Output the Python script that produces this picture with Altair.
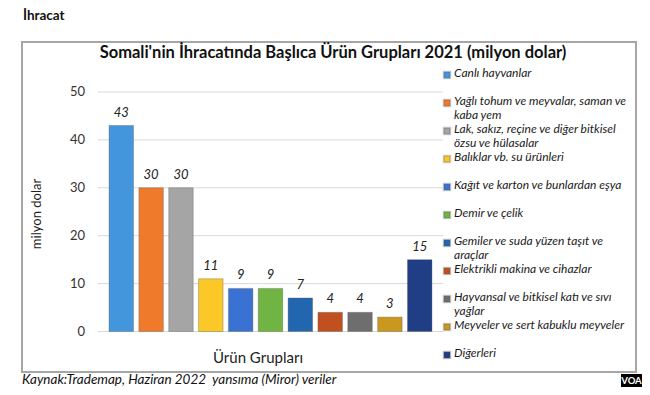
import altair as alt
import pandas as pd

categories = [
    "Canlı hayvanlar",
    "Yağlı tohum ve meyvalar, saman ve kaba yem",
    "Lak, sakız, reçine ve diğer bitkisel özsu ve hülasalar",
    "Balıklar vb. su ürünleri",
    "Kağıt ve karton ve bunlardan eşya",
    "Demir ve çelik",
    "Gemiler ve suda yüzen taşıt ve araçlar",
    "Elektrikli makina ve cihazlar",
    "Hayvansal ve bitkisel katı ve sıvı yağlar",
    "Meyveler ve sert kabuklu meyveler",
    "Diğerleri",
]
legend_labels = [
    "Canlı hayvanlar",
    "Yağlı tohum ve meyvalar, saman ve\nkaba yem",
    "Lak, sakız, reçine ve diğer bitkisel\nözsu ve hülasalar",
    "Balıklar vb. su ürünleri",
    "Kağıt ve karton ve bunlardan eşya",
    "Demir ve çelik",
    "Gemiler ve suda yüzen taşıt ve\naraçlar",
    "Elektrikli makina ve cihazlar",
    "Hayvansal ve bitkisel katı ve sıvı\nyağlar",
    "Meyveler ve sert kabuklu meyveler",
    "Diğerleri",
]
values = [43, 30, 30, 11, 9, 9, 7, 4, 4, 3, 15]
colors = ["#4496dc", "#ef7a2c", "#a5a5a5", "#fcc827", "#3a72d4", "#70b443",
          "#2166ae", "#c0501f", "#6e6e6e", "#c9981e", "#1f3e85"]
y_ticks = [0, 10, 20, 30, 40, 50]

title_text = "Somali'nin İhracatında Başlıca Ürün Grupları 2021 (milyon dolar)"
header_text = "İhracat"
source_text = "Kaynak:Trademap, Haziran 2022\u00a0 yansıma (Miror) veriler"
x_title = "Ürün Grupları"
y_title = "milyon dolar"

FONT = "Lato"

df = pd.DataFrame({"cat": categories, "val": values, "label": legend_labels})
ticks_df = pd.DataFrame({"t": y_ticks})
one = pd.DataFrame({"a": [0]})

xscale = alt.Scale(domain=categories, range=[76, 421], paddingInner=0.18, paddingOuter=0.37)
yscale = alt.Scale(domain=[0, 50], range=[289.5, 50], nice=False, zero=True)
cscale = alt.Scale(domain=categories, range=colors)
lscale = alt.Scale(domain=categories, range=[33, 313], padding=0)

grid = alt.Chart(ticks_df).mark_rule(color="#d9d9d9", strokeWidth=1).encode(
    y=alt.Y("t:Q", scale=yscale, axis=None),
    x=alt.value(76), x2=alt.value(421),
)
tick_labels = alt.Chart(ticks_df).mark_text(
    align="right", baseline="middle", font=FONT, fontSize=13, color="#333333"
).encode(
    y=alt.Y("t:Q", scale=yscale, axis=None),
    x=alt.value(63),
    text="t:Q",
)
bars = alt.Chart(df).mark_bar(stroke="#555555", strokeOpacity=0.35, strokeWidth=1).encode(
    x=alt.X("cat:N", scale=xscale, sort=categories, axis=None),
    y=alt.Y("val:Q", scale=yscale, axis=None),
    color=alt.Color("cat:N", scale=cscale, sort=categories, legend=None),
)
val_labels = alt.Chart(df).mark_text(
    baseline="middle", dy=-13, font=FONT, fontSize=13, fontStyle="italic", color="#222222"
).encode(
    x=alt.X("cat:N", scale=xscale, sort=categories, axis=None),
    y=alt.Y("val:Q", scale=yscale, axis=None),
    text="val:Q",
)
leg_sym = alt.Chart(df).mark_square(size=42, opacity=1, stroke="#555555", strokeOpacity=0.3).encode(
    y=alt.Y("cat:N", scale=lscale, sort=categories, axis=None),
    x=alt.value(425),
    color=alt.Color("cat:N", scale=cscale, sort=categories, legend=None),
)
leg_txt = alt.Chart(df).mark_text(
    align="left", baseline="top", dy=-7, lineBreak="\n", lineHeight=14,
    font=FONT, fontSize=12, fontStyle="italic", color="#1a1a1a"
).encode(
    y=alt.Y("cat:N", scale=lscale, sort=categories, axis=None),
    x=alt.value(432),
    text="label:N",
)
chart_title = alt.Chart(one).mark_text(
    font=FONT, fontSize=16.5, fontWeight="bold", color="#111111", baseline="middle"
).encode(x=alt.value(311), y=alt.value(11), text=alt.value(title_text))
header = alt.Chart(one).mark_text(
    font=FONT, fontSize=13.5, fontWeight="bold", color="#111111", align="left", baseline="alphabetic"
).encode(x=alt.value(1), y=alt.value(-22), text=alt.value(header_text))
xtitle = alt.Chart(one).mark_text(
    font=FONT, fontSize=15, color="#222222", baseline="middle"
).encode(x=alt.value(236), y=alt.value(316), text=alt.value(x_title))
ytitle = alt.Chart(one).mark_text(
    font=FONT, fontSize=13, color="#222222", baseline="middle", angle=270
).encode(x=alt.value(15), y=alt.value(172), text=alt.value(y_title))
source = alt.Chart(one).mark_text(
    font=FONT, fontSize=13.5, fontStyle="italic", color="#111111", align="left", baseline="middle"
).encode(x=alt.value(0), y=alt.value(338), text=alt.value(source_text))
voa_box = alt.Chart(one).mark_rect(color="#000000").encode(
    x=alt.value(599), x2=alt.value(620), y=alt.value(332), y2=alt.value(345)
)
voa_txt = alt.Chart(one).mark_text(
    font=FONT, fontSize=9.5, fontWeight="bold", color="#ffffff", baseline="middle"
).encode(x=alt.value(609.5), y=alt.value(338.5), text=alt.value("VOA"))

chart = alt.layer(
    grid, tick_labels, bars, val_labels, leg_sym, leg_txt,
    chart_title, header, xtitle, ytitle, source, voa_box, voa_txt
).resolve_scale(y="independent").properties(
    width=614, height=330,
    autosize=alt.AutoSizeParams(type="none"),
    padding={"left": 14, "top": 34, "right": 6, "bottom": 15},
    background="#ffffff",
).configure_view(stroke="#a6a6a6", strokeWidth=2)

chart.save("out.html", embed_options={"renderer": "svg", "actions": False})
